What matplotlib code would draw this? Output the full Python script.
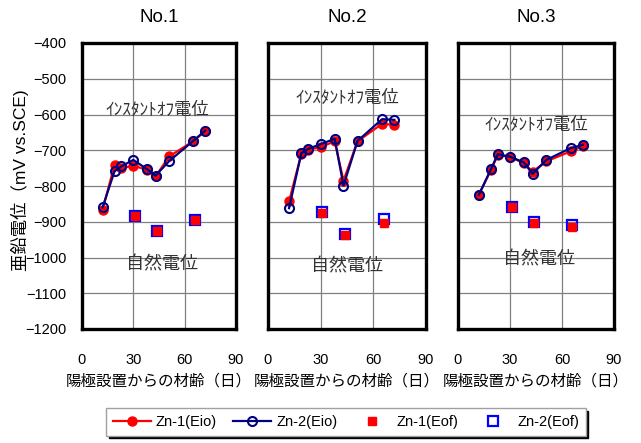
import matplotlib
matplotlib.use('Agg')
import matplotlib.pyplot as plt

plt.rcParams['font.family'] = ['Liberation Sans', 'Noto Sans CJK JP', 'DejaVu Sans']
plt.rcParams['axes.unicode_minus'] = True

# 経過日数（インスタントオフ電位 / 自然電位）
days_io = [12, 19, 23, 30, 38, 43, 51, 65, 72]
days_of = [31, 44, 66]

# No.1
zn1_io_1 = [-867, -741, -750, -743, -755, -773, -717, -675, -646]
zn2_io_1 = [-860, -759, -745, -727, -753, -771, -730, -674, -645]
zn1_of_1 = [-884, -927, -895]
zn2_of_1 = [-883, -927, -895]

# No.2
zn1_io_2 = [-843, -710, -699, -691, -675, -785, -675, -626, -629]
zn2_io_2 = [-862, -708, -696, -683, -668, -799, -674, -613, -615]
zn1_of_2 = [-876, -936, -904]
zn2_of_2 = [-874, -934, -892]

# No.3
zn1_io_3 = [-825, -755, -713, -719, -736, -760, -731, -703, -689]
zn2_io_3 = [-825, -753, -711, -718, -734, -766, -727, -694, -685]
zn1_of_3 = [-860, -903, -914]
zn2_of_3 = [-860, -902, -909]

titles = ['No.1', 'No.2', 'No.3']
label_pos = [((44, -585), (47, -1021)),
             ((45, -554), (45, -1027)),
             ((45, -627), (47, -1007))]

panels = [(zn1_io_1, zn2_io_1, zn1_of_1, zn2_of_1),
          (zn1_io_2, zn2_io_2, zn1_of_2, zn2_of_2),
          (zn1_io_3, zn2_io_3, zn1_of_3, zn2_of_3)]

fig = plt.figure(figsize=(6.41, 4.43), dpi=100)
W, H = 641, 443
boxes = [(82, 236), (268, 426), (458, 614)]
top, bottom = 43, 329

handles = None
for i, (l, r) in enumerate(boxes):
    ax = fig.add_axes([l / W, 1 - bottom / H, (r - l) / W, (bottom - top) / H])
    z1io, z2io, z1of, z2of = panels[i]
    h2 = ax.plot(days_of, z2of, ls='none', marker='s', ms=7, mfc='none',
                 mec='#0000ff', mew=1.6, label='Zn-2(Eof)', zorder=3)[0]
    h1 = ax.plot(days_of, z1of, ls='none', marker='s', ms=5.2, color='#ff0000',
                 label='Zn-1(Eof)', zorder=4)[0]
    l1 = ax.plot(days_io, z1io, color='#ff0000', lw=1.6, marker='o', ms=6.5,
                 label='Zn-1(Eio)', zorder=3)[0]
    l2 = ax.plot(days_io, z2io, color='#000080', lw=1.6, marker='o', ms=6.5,
                 mfc='none', mew=1.5, label='Zn-2(Eio)', zorder=4)[0]
    handles = [l1, l2, h1, h2]

    ax.set_xlim(0, 90)
    ax.set_ylim(-1200, -400)
    ax.set_xticks([0, 30, 60, 90])
    ax.set_yticks(range(-1200, -399, 100))
    ax.grid(True, color='#808080', lw=0.9)
    ax.set_axisbelow(True)
    for s in ax.spines.values():
        s.set_linewidth(2.4)
        s.set_color('black')
    ax.tick_params(length=0, labelsize=10.5, pad=11)
    ax.tick_params(axis='x', pad=17)
    if i > 0:
        ax.set_yticklabels([])
    ax.set_title(titles[i], fontsize=13.5, pad=15)
    ax.set_xlabel('陽極設置からの材齢（日）', fontsize=11.2, labelpad=5)

    (tx1, ty1), (tx2, ty2) = label_pos[i]
    ax.text(tx1, ty1, 'ｲﾝｽﾀﾝﾄｵﾌ電位', fontsize=12.5, color='#333333',
            ha='center', va='center')
    ax.text(tx2, ty2, '自然電位', fontsize=13, color='#333333',
            ha='center', va='center')

fig.text(20 / W, 1 - 180 / H, '亜鉛電位（mV vs.SCE)', rotation=90,
         fontsize=12.5, ha='center', va='center')

leg = fig.legend(handles=handles, labels=[h.get_label() for h in handles],
                 loc='center', bbox_to_anchor=(346 / W, 1 - 422 / H), ncol=4,
                 fontsize=10.5, frameon=True, fancybox=False,
                 shadow={'color': 'black', 'alpha': 1.0},
                 handlelength=2.6, handletextpad=0.35, columnspacing=1.1,
                 borderpad=0.45)
leg.get_frame().set_edgecolor('#a0a0a0')
leg.get_frame().set_linewidth(1.0)

fig.savefig('out.png', dpi=100)
